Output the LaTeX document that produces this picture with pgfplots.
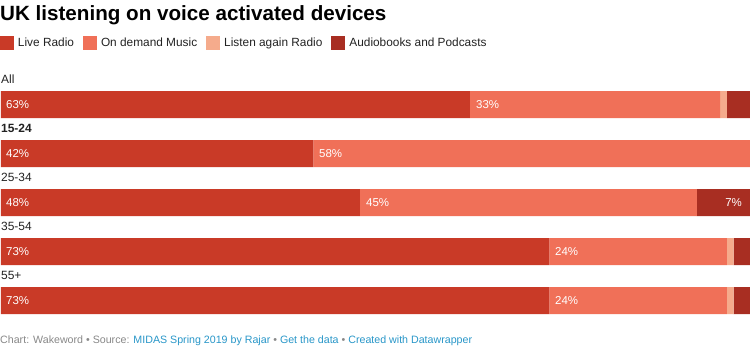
\documentclass[border=0pt]{standalone}
\usepackage{pgfplots}
\pgfplotsset{compat=1.18}
\usepackage{pgfplotstable}
\usepackage{fontspec}
\setmainfont{Liberation Sans}
\definecolor{live}{RGB}{201,58,39}
\definecolor{music}{RGB}{240,112,88}
\definecolor{again}{RGB}{245,171,140}
\definecolor{pod}{RGB}{168,46,34}
\definecolor{txt}{RGB}{34,34,34}
\definecolor{foot}{RGB}{136,136,136}
\definecolor{link}{RGB}{40,150,200}

\pgfplotstableread{
y     live  music again pod
104.5 62.6  33.4  0.9   3.1
153.5 41.7  58.3  0     0
202.5 47.9  45.0  0     7.1
251.5 73.2  23.7  0.9   2.2
300.5 73.2  23.7  0.9   2.2
}\data

\begin{document}
\begin{tikzpicture}
\begin{axis}[
  at={(0bp,0bp)}, anchor=south west,
  scale only axis, width=750bp, height=347bp,
  xmin=-0.1335, xmax=100, ymin=0, ymax=347, y dir=reverse,
  hide axis, clip=false,
  xbar stacked, bar width=27bp,
  legend columns=4,
  legend style={draw=none, fill=none, inner sep=0pt, outer sep=0pt,
    at={(axis cs:-0.1335,43.4)}, anchor=west,
    nodes={inner sep=0pt, outer sep=0pt},
    font=\fontsize{11.9}{14}\selectfont\color{txt},
    /tikz/every odd column/.append style={column sep=0bp},
    /tikz/every even column/.append style={column sep=9bp}},
  legend image code/.code={\fill[#1] (0bp,-7bp) rectangle (14bp,7bp); \path (18bp,0bp);},
]
\addplot[fill=live, draw=none] table[x=live, y=y] {\data};
\addlegendentry{Live Radio}
\addplot[fill=music, draw=none] table[x=music, y=y] {\data};
\addlegendentry{On demand Music}
\addplot[fill=again, draw=none] table[x=again, y=y] {\data};
\addlegendentry{Listen again Radio}
\addplot[fill=pod, draw=none] table[x=pod, y=y] {\data};
\addlegendentry{Audiobooks and Podcasts}
\path (rel axis cs:0,0) rectangle (rel axis cs:1,1);
\end{axis}

% title
\node[anchor=base west, inner sep=0pt, font=\fontsize{20.7}{24}\bfseries\selectfont, text=black] at (0bp,326bp) {UK listening on voice activated devices};

% category labels
\tikzset{cat/.style={anchor=base west, inner sep=0pt, font=\fontsize{12}{14}\selectfont, text=txt}}
\node[cat] at (1bp,263bp) {All};
\node[cat, font=\fontsize{12}{14}\bfseries\selectfont] at (1bp,214bp) {15-24};
\node[cat] at (1bp,165bp) {25-34};
\node[cat] at (1bp,116bp) {35-54};
\node[cat] at (1bp,67bp) {55+};

% value labels
\tikzset{val/.style={anchor=base west, inner sep=0pt, font=\fontsize{11.5}{13}\selectfont, text=white}}
\node[val] at (6bp,238.5bp) {63\%};
\node[val] at (476bp,238.5bp) {33\%};
\node[val] at (6bp,189.5bp) {42\%};
\node[val] at (319bp,189.5bp) {58\%};
\node[val] at (6bp,140.5bp) {48\%};
\node[val] at (366bp,140.5bp) {45\%};
\node[val, anchor=base east] at (742bp,140.5bp) {7\%};
\node[val] at (6bp,91.5bp) {73\%};
\node[val] at (555bp,91.5bp) {24\%};
\node[val] at (6bp,42.5bp) {73\%};
\node[val] at (555bp,42.5bp) {24\%};

% footer
\node[anchor=base west, inner sep=0pt, font=\fontsize{10.7}{13}\selectfont, text=foot] at (0bp,4bp)
  {Chart: Wakeword \textbullet{} Source: \textcolor{link}{MIDAS Spring 2019 by Rajar} \textbullet{} \textcolor{link}{Get the data} \textbullet{} \textcolor{link}{Created with Datawrapper}};
\end{tikzpicture}
\end{document}
